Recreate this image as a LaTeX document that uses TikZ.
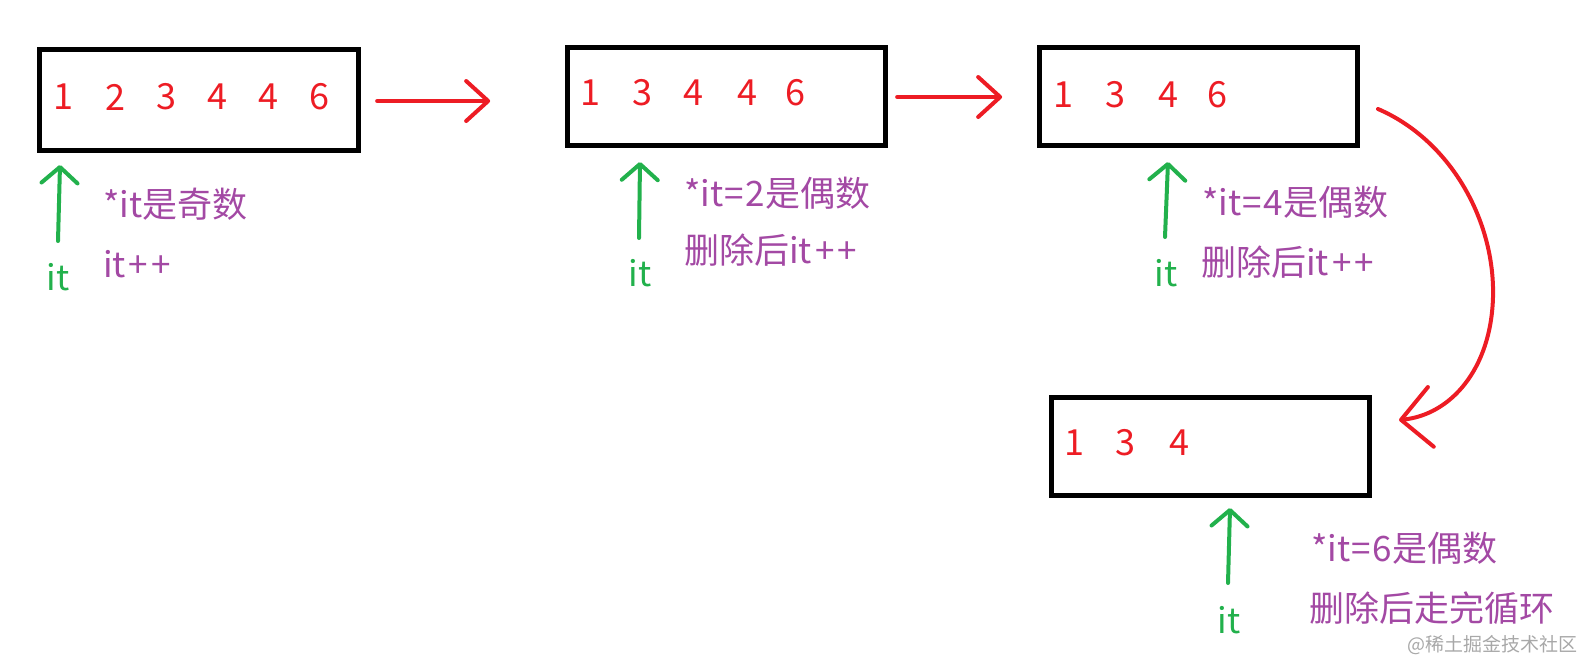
\documentclass[tikz,border=0pt]{standalone}
\usepackage{fontspec}
\setmainfont{Noto Sans CJK SC}
\usetikzlibrary{arrows.meta}
\definecolor{pred}{HTML}{ED1C24}
\definecolor{pgreen}{HTML}{22B14C}
\definecolor{ppurple}{HTML}{A349A4}
\definecolor{wmgray}{HTML}{A8A8A8}
\newcommand{\pp}{\hspace{3pt}+\hspace{3pt}+}
\newcommand{\eqs}{\hspace{1.5pt}=\hspace{1.5pt}}
\begin{document}
\begin{tikzpicture}[x=1pt,y=-1pt,
  box/.style={draw=black, line width=4.8pt, minimum width=318.5pt, minimum height=98.5pt, inner sep=0pt},
  num/.style={text=pred, font=\fontsize{36}{40}\selectfont, inner sep=0pt},
  itlabel/.style={text=pgreen, font=\fontsize{35}{40}\selectfont, inner sep=0pt},
  note/.style={text=ppurple, font=\fontsize{35}{40}\selectfont, inner sep=0pt, anchor=west},
  ptr/.style={draw=pgreen, line width=4pt, line cap=round, -{Straight Barb[round,length=16pt,width=36pt]}},
  flow/.style={draw=pred, line width=4pt, line cap=round, -{Straight Barb[round,length=22pt,width=40pt]}},
  bigflow/.style={draw=pred, line width=4pt, line cap=round, -{Straight Barb[round,length=30pt,width=60pt]}},
]
\useasboundingbox (0,0) rectangle (1584,662);

% boxes
\node[box, minimum width=319.5pt, minimum height=101.5pt] (b1) at (199,100) {};
\node[box] (b2) at (726.5,96.5) {};
\node[box] (b3) at (1198.5,96.5) {};
\node[box] (b4) at (1210.5,446.5) {};

% numbers
\foreach \x/\t [count=\i] in {63/1,115/2,166/3,217/4,268/4,319/6}
  \node[num] (n1\i) at (\x,97) {\t};
\foreach \x/\t [count=\i] in {590/1,642/3,693/4,747/4,795/6}
  \node[num] (n2\i) at (\x,93) {\t};
\foreach \x/\t [count=\i] in {1063/1,1115/3,1168/4,1217/6}
  \node[num] (n3\i) at (\x,95) {\t};
\foreach \x/\t [count=\i] in {1074/1,1125/3,1179/4}
  \node[num] (n4\i) at (\x,443) {\t};

% flow arrows
\draw[flow] (b1.east) ++(16,1) coordinate (f1s) (f1s) -- ++(113,0) coordinate (f1e);
\draw[flow] (b2.east) ++(9,0.5) coordinate (f2s) (f2s) -- ++(105,0) coordinate (f2e);
\coordinate (cs) at (1378,109);
\coordinate (cm) at (1493,297);
\coordinate (ce) at (1399,420);
\draw[bigflow] (cs) .. controls (1450,140) and (1495,220) .. (cm)
  .. controls (1491,370) and (1450,415) .. (ce);

% iterator labels and pointers
\node[itlabel] (it1) at (58,277) {it};
\node[itlabel] (it2) at (640,273) {it};
\node[itlabel] (it3) at (1166,273) {it};
\node[itlabel] (it4) at (1229,620) {it};
\coordinate (p1s) at (58,241);  \coordinate (p1e) at (60,165);
\coordinate (p2s) at (639,238); \coordinate (p2e) at (640,162);
\coordinate (p3s) at (1165,237); \coordinate (p3e) at (1168,162);
\coordinate (p4s) at (1228,583); \coordinate (p4e) at (1230,508);
\draw[ptr] (p1s) -- (p1e);
\draw[ptr] (p2s) -- (p2e);
\draw[ptr] (p3s) -- (p3e);
\draw[ptr] (p4s) -- (p4e);

% notes
\node[note] (t1a) at (103,204) {*it是奇数};
\node[note] (t1b) at (103,264) {it\pp};
\node[note] (t2a) at (684,193) {*it\eqs 2是偶数};
\node[note] (t2b) at (684,250) {删除后it\pp};
\node[note] (t3a) at (1202,202) {*it\eqs 4是偶数};
\node[note] (t3b) at (1201,262) {删除后it\pp};
\node[note] (t4a) at (1311,548) {*it\eqs 6是偶数};
\node[note] (t4b) at (1309,608) {删除后走完循环};

% watermark
\node[text=wmgray, font=\fontsize{19}{22}\selectfont, inner sep=0pt, anchor=east] (wm) at (1578,645) {@稀土掘金技术社区};
\end{tikzpicture}
\end{document}
